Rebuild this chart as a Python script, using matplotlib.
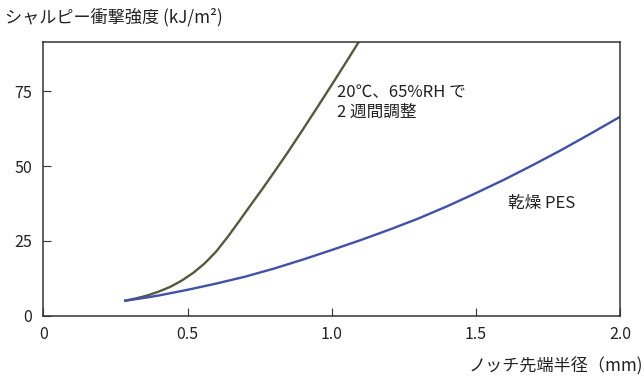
import numpy as np
import matplotlib
matplotlib.use('Agg')
import matplotlib.pyplot as plt

plt.rcParams['font.family'] = ['Noto Sans CJK JP', 'DejaVu Sans']

# conditioned at 20C, 65%RH for 2 weeks
cond_x = [0.28, 0.32, 0.36, 0.4, 0.44, 0.48, 0.52, 0.56, 0.6, 0.64, 0.68, 0.72,
          0.76, 0.8, 0.85, 0.9, 0.95, 1.0, 1.05, 1.1]
cond_y = [5.0, 5.8, 6.8, 8.1, 9.7, 11.8, 14.4, 17.6, 21.6, 26.5, 31.8, 37.2,
          42.5, 48.0, 55.0, 62.3, 69.7, 77.2, 84.8, 92.5]

# dry PES
dry_x = [0.28, 0.35, 0.4, 0.5, 0.6, 0.7, 0.8, 0.9, 1.0, 1.1, 1.2, 1.3, 1.4,
         1.5, 1.6, 1.7, 1.8, 1.9, 2.0]
dry_y = [5.0, 6.0, 6.8, 8.7, 10.8, 13.1, 15.8, 18.8, 22.0, 25.3, 28.8, 32.5, 36.6,
         41.0, 45.6, 50.5, 55.6, 61.0, 66.5]

xticks = [0, 0.5, 1.0, 1.5, 2.0]
xtick_labels = ['0', '0.5', '1.0', '1.5', '2.0']
yticks = [0, 25, 50, 75]

fig = plt.figure(figsize=(6.44, 3.76), dpi=100)
ax = fig.add_axes([0.0675, 0.16, 0.8955, 0.727])

ax.plot(cond_x, cond_y, color='#555a3c', lw=1.7, solid_capstyle='butt')
ax.plot(dry_x, dry_y, color='#4150a8', lw=1.7, solid_capstyle='butt')

ax.set_xlim(0, 2.0)
ax.set_ylim(0, 91.3)
ax.set_xticks(xticks)
ax.set_xticklabels(xtick_labels)
ax.set_yticks(yticks)
ax.tick_params(direction='in', length=6, width=0.8, color='#333333', labelsize=11.5, labelcolor='#222222')
ax.tick_params(axis='x', pad=7)
ax.tick_params(axis='y', pad=8)
for s in ax.spines.values():
    s.set_linewidth(1.1)
    s.set_color('#333333')

ax.text(1.017, 77.5, '20℃、65%RH で\n2 週間調整', fontsize=12, va='top', ha='left',
        color='#222222', linespacing=1.25)
ax.text(1.61, 37.7, '乾燥 PES', fontsize=12, va='center', ha='left', color='#222222')

fig.text(0.008, 0.955, 'シャルピー衝撃強度 (kJ/m²)', fontsize=12.3, va='center', ha='left', color='#222222')
fig.text(0.999, 0.025, 'ノッチ先端半径（mm)', fontsize=12.3, va='center', ha='right', color='#222222')

fig.savefig('out.png', dpi=100)
